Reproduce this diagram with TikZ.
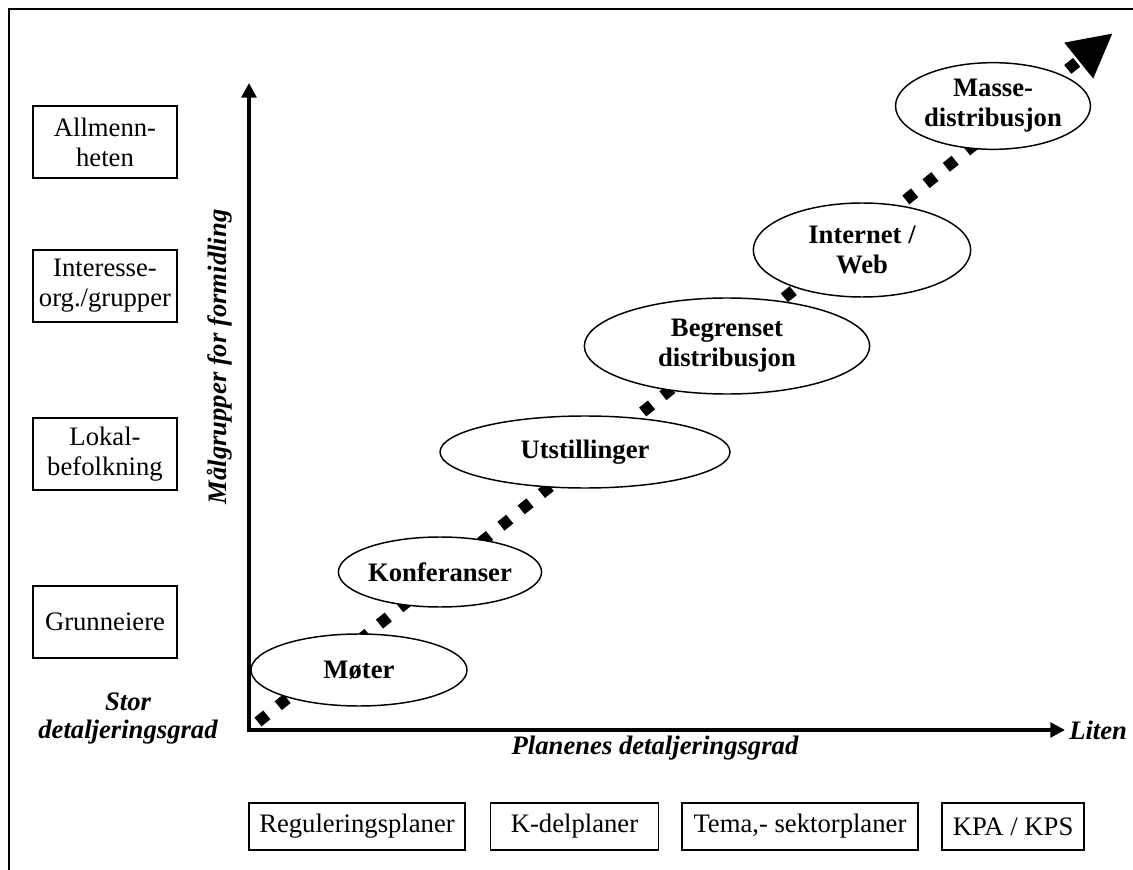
\documentclass[tikz,border=0pt]{standalone}
\usepackage{fontspec}
\setmainfont{Liberation Serif}
\usetikzlibrary{shapes.geometric,arrows.meta,positioning}

\begin{document}
\begin{tikzpicture}[x=0.75pt,y=-0.75pt,
        every node/.style={font=\fontsize{20}{22.5}\selectfont},
        grp/.style={draw, line width=1.1pt, minimum width=108pt, minimum height=54pt, inner sep=2pt, align=center},
        plan/.style={draw, line width=1.1pt, minimum height=35pt, inner sep=2pt},
        tiltak/.style={draw, ellipse, fill=white, line width=1.1pt, inner sep=0pt, align=center, font=\fontsize{20}{22.5}\selectfont\bfseries},
        akse/.style={line width=3pt, line join=miter, {Triangle[length=11pt,width=11pt]}-{Triangle[length=11pt,width=11pt]}},
        lbl/.style={font=\fontsize{20}{21}\selectfont\bfseries\itshape, align=center}]
        \useasboundingbox (0,0) rectangle (1133,870);

        % Frame
        \draw[line width=1.5pt] (9,870) -- (9,9) -- (1133,9);

        % Trend
        \coordinate (start) at (258,722);
        \coordinate (tip) at (1113,33);
        \draw[line width=8.5pt, dash pattern=on 8.5pt off 11pt, -{Triangle[length=33pt,width=32pt]}] (start) -- (tip);

        % Tiltak
        \node[tiltak, minimum width=162pt, minimum height=54pt] (moter) at (359,670) {Møter};
        \node[tiltak, minimum width=140pt, minimum height=52.5pt] (konf) at (440,572) {Konferanser};
        \node[tiltak, minimum width=217.5pt, minimum height=54pt] (utst) at (585,452) {Utstillinger};
        \node[tiltak, minimum width=214pt, minimum height=72pt] (begr) at (727,346) {Begrenset\\distribusjon};
        \node[tiltak, minimum width=163pt, minimum height=70.5pt] (inet) at (862,250) {Internet /\\Web};
        \node[tiltak, minimum width=145pt, minimum height=65pt] (masse) at (993,106) {Masse-\\distribusjon};

        % Axes
        \coordinate (o) at (249,730);
        \coordinate (ytop) at (249,83);
        \coordinate (xend) at (1065,730);
        \draw[akse] (ytop) -- (o) -- (xend);
        \node[lbl, rotate=90] (maal) at (220,357) {Målgrupper for formidling};
        \node[lbl] (stor) at (128,719) {Stor\\detaljeringsgrad};
        \node[lbl, right=3pt of xend, inner sep=0pt] (liten) {Liten};
        \node[lbl] (plangrad) at (655,748) {Planenes detaljeringsgrad};

        % Malgrupper
        \node[grp] (allmenn) at (105,142) {Allmenn-\\heten};
        \node[grp] (interesse) at (105,286) {Interesse-\\org./grupper};
        \node[grp] (lokal) at (105,454) {Lokal-\\befolkning};
        \node[grp] (grunn) at (105,622) {Grunneiere};

        % Planer
        \node[plan, minimum width=162pt] (regpl) at (357,826.5) {Reguleringsplaner};
        \node[plan, minimum width=126pt, right=18pt of regpl] (kdel) {K-delplaner};
        \node[plan, minimum width=177pt, right=16.5pt of kdel] (tema) {Tema,- sektorplaner};
        \node[plan, minimum width=106.5pt, right=17pt of tema] (kpa) {KPA / KPS};
\end{tikzpicture}
\end{document}
